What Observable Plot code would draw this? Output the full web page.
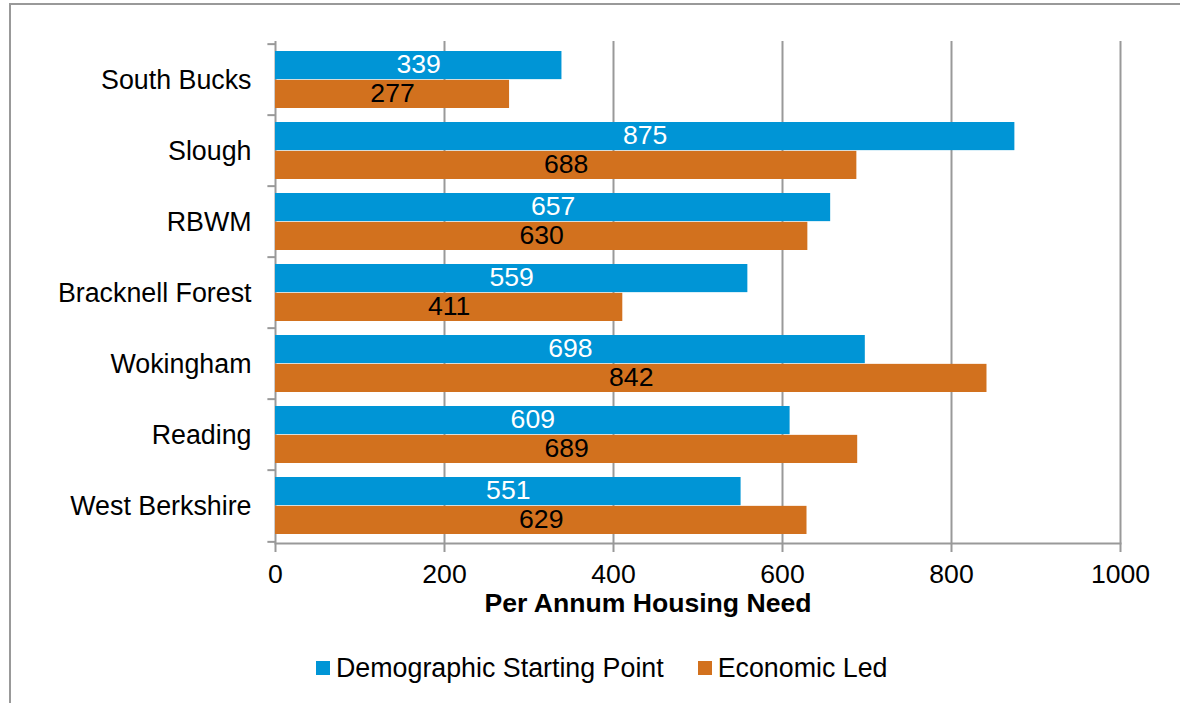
<!DOCTYPE html>
<html>
<head>
<meta charset="utf-8">
<script src="https://cdn.jsdelivr.net/npm/d3@7"></script>
<script src="https://cdn.jsdelivr.net/npm/@observablehq/plot@0.6"></script>
<style>
  html, body { margin: 0; padding: 0; background: #fff; overflow: hidden; }
  #wrap { position: relative; width: 1180px; height: 703px; font-family: "Liberation Sans", Arial, sans-serif; }
  #border { position: absolute; left: 9px; top: 3px; width: 1250px; height: 800px; border: 2px solid #999; box-sizing: border-box; }
  #chart { position: absolute; left: 0; top: 0; }
  #legend { position: absolute; left: 316px; top: 653px; display: flex; align-items: center; font-size: 26.8px; line-height: 30px; color: #000; }
  .item { display: flex; align-items: center; margin-right: 34px; }
  .sw { width: 14px; height: 14px; margin-right: 6px; }
</style>
</head>
<body>
<div id="wrap">
  <div id="border"></div>
  <div id="chart"></div>
  <div id="legend"></div>
</div>
<script>
const categories = ["South Bucks", "Slough", "RBWM", "Bracknell Forest", "Wokingham", "Reading", "West Berkshire"];
const seriesNames = ["Demographic Starting Point", "Economic Led"];
const demographic = [339, 875, 657, 559, 698, 609, 551];
const economic = [277, 688, 630, 411, 842, 689, 629];
const xTicks = [0, 200, 400, 600, 800, 1000];
const colors = ["#0095D6", "#D2711E"];
const axisTitle = "Per Annum Housing Need";

const demoRows = categories.map((c, i) => ({area: c, series: seriesNames[0], value: demographic[i]}));
const econRows = categories.map((c, i) => ({area: c, series: seriesNames[1], value: economic[i]}));

const W = 1180, H = 640, mTop = 41, mBottom = 97, mLeft = 275, mRight = 60;
const step = (H - mTop - mBottom) / categories.length;
const gray = "#999";
const font = "Liberation Sans, Arial, sans-serif";

const chart = Plot.plot({
  width: W,
  height: H,
  marginTop: mTop,
  marginBottom: mBottom,
  marginLeft: mLeft,
  marginRight: mRight,
  style: {fontFamily: font, fontSize: "26px", background: "transparent", overflow: "visible", color: "#000"},
  x: {domain: [0, 1000]},
  y: {domain: categories, padding: 0},
  marks: [
    Plot.gridX(xTicks, {stroke: gray, strokeOpacity: 1, strokeWidth: 2}),
    Plot.barX(demoRows, {x: "value", y: "area", fill: colors[0], insetTop: 7, insetBottom: step / 2}),
    Plot.barX(econRows, {x: "value", y: "area", fill: colors[1], insetTop: step / 2, insetBottom: 7}),
    Plot.text(demoRows, {x: d => d.value / 2, y: "area", text: d => String(d.value), dy: -(step / 4 - 2.5), fill: "#fff", fontSize: 26.6}),
    Plot.text(econRows, {x: d => d.value / 2, y: "area", text: d => String(d.value), dy: (step / 4 - 4), fill: "#000", fontSize: 26.6}),
    Plot.frame({anchor: "bottom", stroke: gray, strokeWidth: 2}),
    Plot.ruleY(categories, {y: d => d, x1: -9, x2: 0, dy: -step / 2, stroke: gray, strokeWidth: 2}),
    Plot.ruleY(categories.slice(-1), {y: d => d, x1: -9, x2: 0, dy: step / 2, stroke: gray, strokeWidth: 2}),
    Plot.axisX({ticks: xTicks, tickSize: 9, tickPadding: 12, stroke: gray, strokeWidth: 2, fontSize: 26.6, fill: "#000", label: null, tickFormat: d => String(d)}),
    Plot.axisY({tickSize: 0, tickPadding: 24, fontSize: 26.8, fill: "#000", label: null}),
    Plot.text([axisTitle], {frameAnchor: "bottom", text: d => d, dy: 68, dx: -50, lineAnchor: "bottom", fontWeight: "bold", fontSize: 26.6, fill: "#000"})
  ]
});
document.getElementById("chart").appendChild(chart);

const legend = document.getElementById("legend");
seriesNames.forEach((s, i) => {
  const item = document.createElement("div");
  item.className = "item";
  const sw = document.createElement("div");
  sw.className = "sw";
  sw.style.background = colors[i];
  const t = document.createElement("span");
  t.textContent = s;
  item.appendChild(sw);
  item.appendChild(t);
  legend.appendChild(item);
});
</script>
</body>
</html>
